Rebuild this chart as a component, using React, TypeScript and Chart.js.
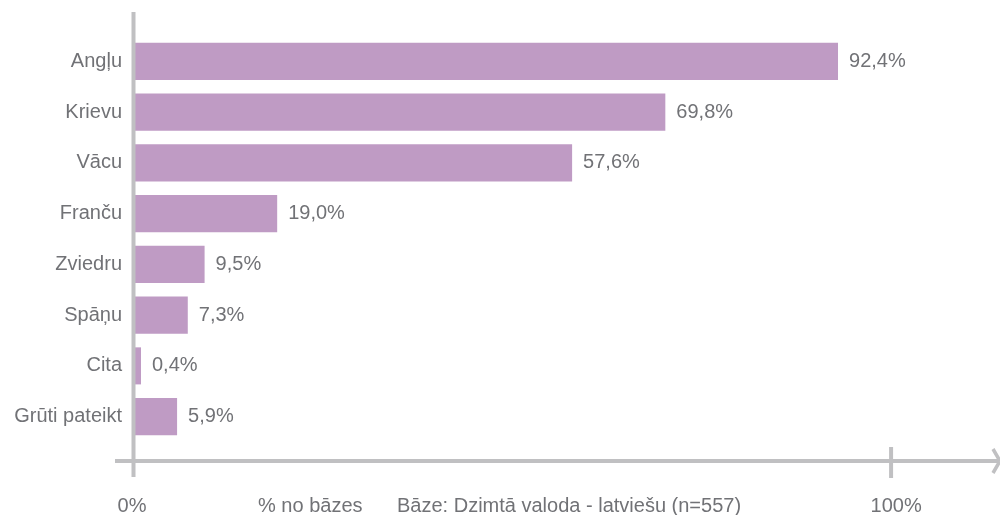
import React, { useEffect, useRef } from "react";
import { Chart, registerables } from "chart.js";

Chart.register(...registerables);

const categories = ["Angļu", "Krievu", "Vācu", "Franču", "Zviedru", "Spāņu", "Cita", "Grūti pateikt"];
const values = [92.4, 69.8, 57.6, 19.0, 9.5, 7.3, 0.4, 5.9];
const valueLabels = ["92,4%", "69,8%", "57,6%", "19,0%", "9,5%", "7,3%", "0,4%", "5,9%"];
const axisTickLabels = ["0%", "100%"];
const axisTickValues = [0, 100];
const footerUnit = "% no bāzes";
const footerBase = "Bāze: Dzimtā valoda - latviešu (n=557)";

const TEXT = "#717276";
const AXIS = "#c0c0c2";
const BAR = "#bf9bc4";
const FONT = '"Liberation Sans", Arial, sans-serif';

const drawPlugin = {
  id: "customDraw",
  afterDatasetsDraw(chart: any) {
    const ctx = chart.ctx as CanvasRenderingContext2D;
    const x = chart.scales.x;
    const y = chart.scales.y;
    ctx.save();
    // vertical axis
    const x0 = x.getPixelForValue(0) + 1.5;
    ctx.strokeStyle = AXIS;
    ctx.lineWidth = 4;
    ctx.beginPath();
    ctx.moveTo(x0, 12);
    ctx.lineTo(x0, 477);
    ctx.stroke();
    // horizontal axis
    const yAxis = 461;
    ctx.beginPath();
    ctx.moveTo(115, yAxis);
    ctx.lineTo(998, yAxis);
    ctx.stroke();
    // tick at 100
    const x100 = x.getPixelForValue(100) - 5;
    ctx.beginPath();
    ctx.moveTo(x100, 447);
    ctx.lineTo(x100, 478);
    ctx.stroke();
    // arrow
    ctx.lineWidth = 3.5;
    ctx.beginPath();
    ctx.moveTo(993, 449);
    ctx.lineTo(1000, 461);
    ctx.lineTo(993, 473);
    ctx.stroke();

    // category labels & value labels
    ctx.fillStyle = TEXT;
    ctx.font = `20px ${FONT}`;
    ctx.textBaseline = "middle";
    const meta = chart.getDatasetMeta(0);
    categories.forEach((c, i) => {
      const yc = y.getPixelForValue(i);
      ctx.textAlign = "right";
      ctx.fillText(c, 122, yc);
      const bar = meta.data[i];
      ctx.textAlign = "left";
      ctx.fillText(valueLabels[i], bar.x + 11, yc);
    });

    // bottom texts
    ctx.textAlign = "center";
    ctx.textBaseline = "alphabetic";
    axisTickValues.forEach((v, i) => {
      ctx.fillText(axisTickLabels[i], x.getPixelForValue(v), 512);
    });
    ctx.textAlign = "left";
    ctx.fillText(footerUnit, 258, 512);
    ctx.fillText(footerBase, 397, 512);
    ctx.restore();
  },
};

export default function App() {
  const ref = useRef<HTMLCanvasElement | null>(null);
  useEffect(() => {
    if (!ref.current) return;
    const chart = new Chart(ref.current, {
      type: "bar",
      data: {
        labels: categories,
        datasets: [
          {
            data: values,
            backgroundColor: BAR,
            barPercentage: 0.73,
            categoryPercentage: 1,
            minBarLength: 9,
          },
        ],
      },
      options: {
        indexAxis: "y",
        responsive: false,
        animation: false,
        layout: { padding: { left: 132, right: 0, top: 36, bottom: 73 } },
        plugins: { legend: { display: false }, tooltip: { enabled: false } },
        scales: {
          x: { display: false, min: 0, max: 113.6 },
          y: { display: false },
        },
      },
      plugins: [drawPlugin],
    });
    return () => chart.destroy();
  }, []);
  return (
    <div style={{ position: "absolute", left: 0, top: 0, width: 1000, height: 515 }}>
      <canvas ref={ref} width={1000} height={515} style={{ width: 1000, height: 515 }} />
    </div>
  );
}
